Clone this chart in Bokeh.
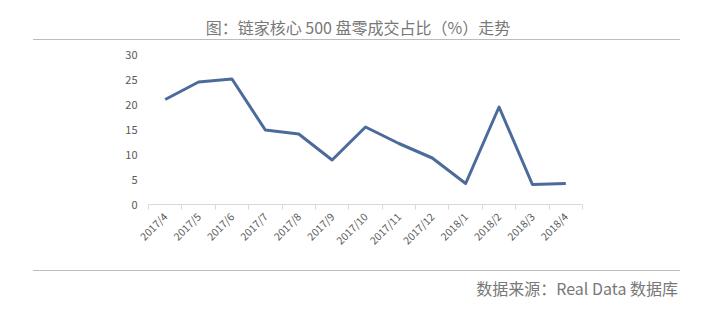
import math
from bokeh.plotting import figure
from bokeh.layouts import column
from bokeh.models import Range1d, FixedTicker, ColumnDataSource, Div
from bokeh.embed import file_html
from bokeh.resources import INLINE

months = ["2017/4", "2017/5", "2017/6", "2017/7", "2017/8", "2017/9", "2017/10",
          "2017/11", "2017/12", "2018/1", "2018/2", "2018/3", "2018/4"]
share = [21.0, 24.5, 25.1, 14.9, 14.1, 8.9, 15.5, 12.2, 9.3, 4.2, 19.5, 4.0, 4.2]
y_ticks = [0, 5, 10, 15, 20, 25, 30]

title_text = "图：链家核心 500 盘零成交占比（%）走势"
source_text = "数据来源：Real Data 数据库"

FONT = "Noto Sans CJK SC"
GRAY = "#595959"
TEXT_GRAY = "#787878"
RULE = "1.5px solid #bcbcbc"

xs = [i + 0.5 for i in range(len(months))]
src = ColumnDataSource(dict(x=xs, y=share))

p = figure(width=701, height=230, output_backend="svg", toolbar_location=None,
           x_range=Range1d(0, len(months)), y_range=Range1d(0, 30),
           min_border_left=148, min_border_right=119, min_border_top=14,
           min_border_bottom=66, margin=(0, 0, 0, 0))
p.outline_line_color = None
p.xgrid.visible = False
p.ygrid.visible = False

p.line("x", "y", source=src, line_color="#4a6b9b", line_width=3, line_join="round")

ya = p.yaxis[0]
ya.ticker = FixedTicker(ticks=y_ticks)
ya.axis_line_color = None
ya.major_tick_line_color = None
ya.minor_tick_line_color = None
ya.major_tick_out = 0
ya.major_tick_in = 0
ya.major_label_standoff = 11
ya.major_label_text_font = FONT
ya.major_label_text_font_size = "11px"
ya.major_label_text_color = GRAY

xa = p.xaxis[0]
xa.ticker = FixedTicker(ticks=xs, minor_ticks=list(range(len(months) + 1)))
xa.major_label_overrides = {x: m for x, m in zip(xs, months)}
xa.major_label_orientation = math.pi / 4
xa.axis_line_color = "#d9d9d9"
xa.major_tick_line_color = None
xa.major_tick_out = 0
xa.major_tick_in = 0
xa.minor_tick_line_color = "#d9d9d9"
xa.minor_tick_out = 5
xa.minor_tick_in = 0
xa.major_label_standoff = 5
xa.major_label_text_font = FONT
xa.major_label_text_font_size = "10.5px"
xa.major_label_text_color = GRAY

head = Div(text=title_text, width=647, height=40, margin=(0, 0, 0, 33),
           styles={"font-family": FONT, "font-size": "16px", "color": TEXT_GRAY,
                   "text-align": "center", "line-height": "24px",
                   "padding-top": "15px", "padding-left": "3px",
                   "box-sizing": "border-box", "border-bottom": RULE})
foot = Div(text=source_text, width=647, height=43, margin=(0, 0, 0, 33),
           styles={"font-family": FONT, "font-size": "16px", "color": TEXT_GRAY,
                   "text-align": "right", "line-height": "24px",
                   "padding-top": "5px", "padding-right": "2px",
                   "box-sizing": "border-box", "border-top": RULE})

layout = column(head, p, foot, spacing=0, margin=(0, 0, 0, 0))
open("out.html", "w").write(file_html(layout, INLINE))
